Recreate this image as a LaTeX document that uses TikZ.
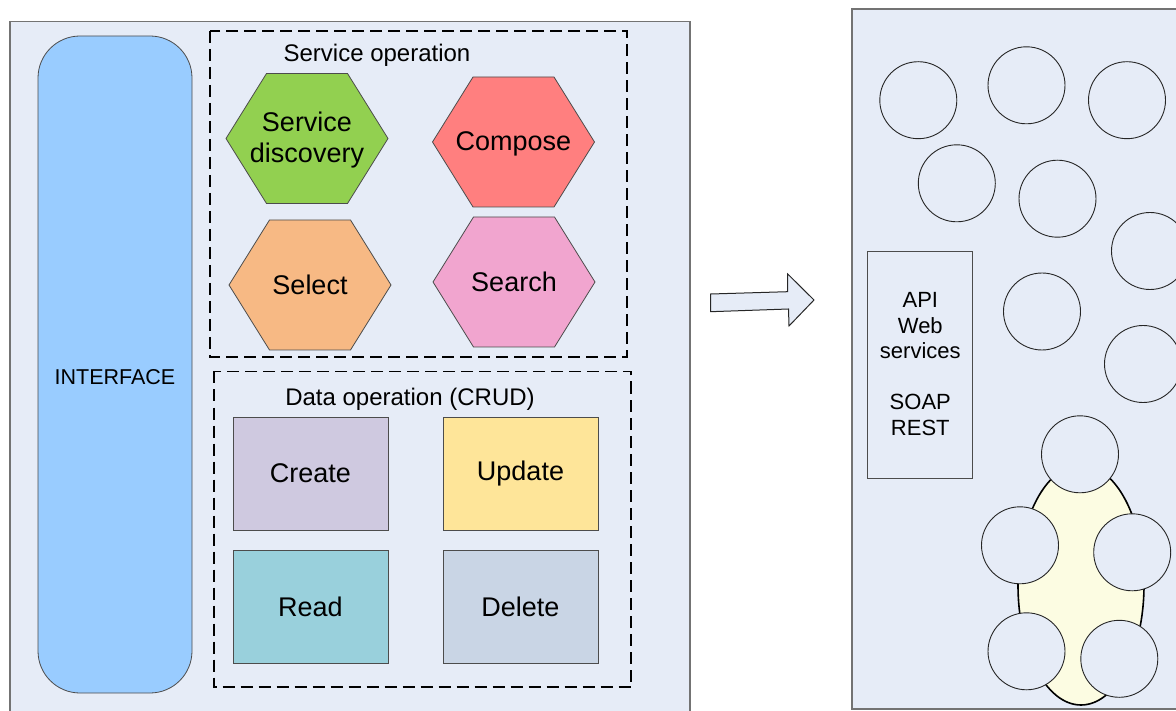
\documentclass[tikz,border=0pt]{standalone}
\usepackage{fontspec}
\setmainfont{Liberation Sans}
\begin{document}
\begin{tikzpicture}[x=1pt,y=-1pt,
  panel/.style={draw=black!55, line width=1.2pt, fill=panelc},
  dbox/.style={draw=black, line width=1.6pt, dash pattern=on 12pt off 6pt},
  hexlbl/.style={align=center, font=\fontsize{27}{31}\selectfont},
  sq/.style={draw=black!70, line width=0.8pt, minimum width=155pt, minimum height=113pt, font=\fontsize{27}{30}\selectfont},
  cir/.style={circle, draw=black!85, line width=0.9pt, fill=panelc, minimum size=77pt, inner sep=0pt},
  hexdraw/.style={draw=black!70, line width=0.8pt}
]
\definecolor{panelc}{HTML}{E6ECF7}
\definecolor{ifc}{HTML}{99CCFF}
\definecolor{greenc}{HTML}{92D050}
\definecolor{redc}{HTML}{FF7F7F}
\definecolor{orangec}{HTML}{F7B984}
\definecolor{pinkc}{HTML}{F1A5CF}
\definecolor{createc}{HTML}{CFC9E0}
\definecolor{updatec}{HTML}{FEE599}
\definecolor{readc}{HTML}{99D0DC}
\definecolor{deletec}{HTML}{C9D5E5}
\definecolor{ellc}{HTML}{FCFCE2}
\useasboundingbox (0,0) rectangle (1176,711);

% left panel
\path[panel] (10,21.5) rectangle (690,730);
% interface
\node[draw=black!70, line width=0.8pt, fill=ifc, rounded corners=42pt, minimum width=154pt, minimum height=657pt] (iface) at (115,364.5) {};
\node[font=\fontsize{21.5}{24}\selectfont] (ifacelbl) at (115,377) {INTERFACE};

% service operation box
\path[dbox] (210,31) rectangle (627,357);
\node[font=\fontsize{24}{26}\selectfont] (svclbl) at (377,55) {Service operation};

\newcommand{\hexat}[3]{% cx, cy, color
  \path[hexdraw, fill=#3] (#1-81,#2) -- (#1-40.5,#2-65) -- (#1+40.5,#2-65) -- (#1+81,#2) -- (#1+40.5,#2+65) -- (#1-40.5,#2+65) -- cycle;}
\hexat{307}{138.5}{greenc}
\hexat{513.5}{142}{redc}
\hexat{310}{285}{orangec}
\hexat{514}{282}{pinkc}
\node[hexlbl] (disc) at (307,140) {Service\\discovery};
\node[hexlbl] (comp) at (513.5,143.5) {Compose};
\node[hexlbl] (sel) at (310,285) {Select};
\node[hexlbl] (srch) at (514,282) {Search};

% data operation box
\path[dbox] (214,371.5) rectangle (631,687);
\node[font=\fontsize{24}{26}\selectfont] (datalbl) at (410,399) {Data operation (CRUD)};
\node[sq, fill=createc] (create) at (310.5,473.5) {Create};
\node[sq, fill=updatec] (update) at (520.5,473.5) {Update};
\node[sq, fill=readc] (read) at (310.5,606.5) {Read};
\node[sq, fill=deletec] (delete) at (520.5,606.5) {Delete};

% arrow
\path[draw=black!85, line width=1pt, fill=panelc]
  (710.7,294) -- (787.7,291.7) -- (787.7,274) -- (814,300) -- (789,326) -- (788.5,309) -- (710.7,311.7) -- cycle;

% right panel
\path[panel, line width=2pt] (852,9.5) rectangle (1200,709);

% API box
\node[draw=black!70, line width=0.8pt, minimum width=105pt, minimum height=227pt] (api) at (920.3,364.5) {};
\node[align=center, font=\fontsize{22}{25.5}\selectfont] (apitxt) at (920.3,364) {API\\Web\\services\\[25.5pt]SOAP\\REST};

% circles
\node[cir] (c1) at (918.3,100.2) {};
\node[cir] (c2) at (1026.5,85.3) {};
\node[cir] (c3) at (1127,100.2) {};
\node[cir] (c4) at (956.8,183.3) {};
\node[cir] (c5) at (1057.5,198.7) {};
\node[cir] (c6) at (1150,251) {};
\node[cir] (c7) at (1042,311.5) {};
\node[cir] (c8) at (1143,364) {};

% ellipse group
\path[draw=black, line width=1.6pt, fill=ellc] (1081,585) ellipse [x radius=63, y radius=120];
\node[cir] (g1) at (1080,454.3) {};
\node[cir] (g2) at (1020,545.3) {};
\node[cir] (g3) at (1132.2,552.3) {};
\node[cir] (g4) at (1026.5,651.3) {};
\node[cir] (g5) at (1119.3,658.8) {};
\end{tikzpicture}
\end{document}
